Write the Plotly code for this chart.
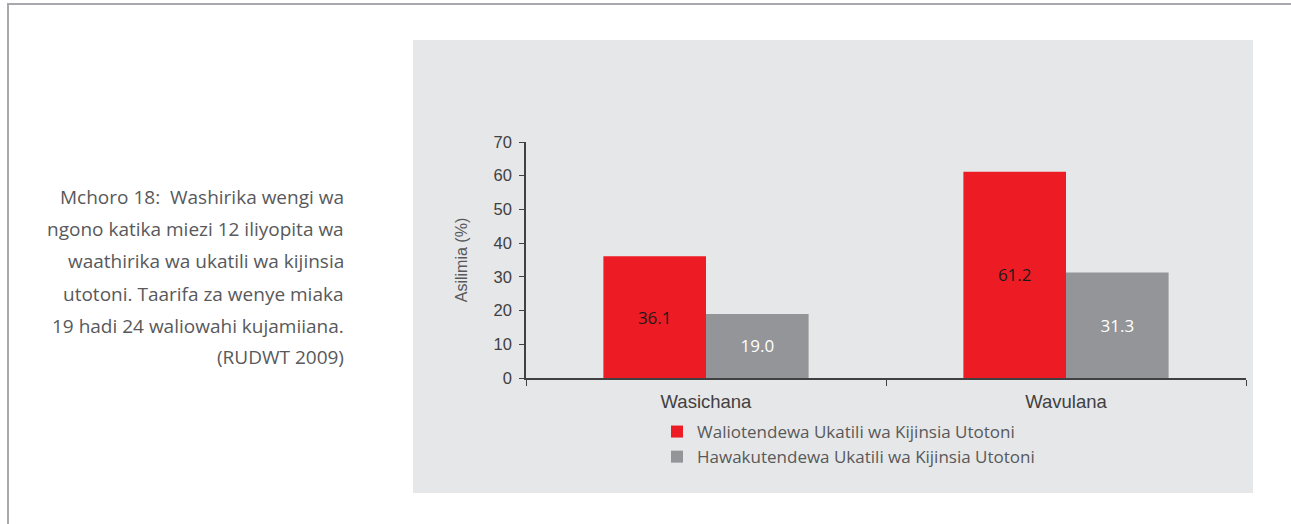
import plotly.graph_objects as go

groups = ['Wasichana', 'Wavulana']
abused = [36.1, 61.2]
not_abused = [19.0, 31.3]
series_names = ['Waliotendewa Ukatili wa Kijinsia Utotoni',
                'Hawakutendewa Ukatili wa Kijinsia Utotoni']
caption_lines = ['Mchoro 18:  Washirika wengi wa',
                 'ngono katika miezi 12 iliyopita wa',
                 'waathirika wa ukatili wa kijinsia',
                 'utotoni. Taarifa za wenye miaka',
                 '19 hadi 24 waliowahi kujamiiana.',
                 '(RUDWT 2009)']

W, H = 1291, 524
L, R, T, B = 526, 1246, 142, 378   # plot area in pixels

def px(x):
    return (x - L) / (R - L)

def py(y):
    return (B - y) / (B - T)

font = 'Open Sans, DejaVu Sans, sans-serif'
axfont = 'Liberation Sans, Arial, sans-serif'
dark = '#414042'
mid = '#58595b'

fig = go.Figure()
fig.add_trace(go.Bar(
    name=series_names[0], x=groups, y=abused,
    marker=dict(color='#ed1c24', line=dict(width=0)),
    text=[f'{v:.1f}' for v in abused], textposition='inside',
    insidetextanchor='middle', textangle=0,
    textfont=dict(color='#1a1a1a', size=17, family=font)))
fig.add_trace(go.Bar(
    name=series_names[1], x=groups, y=not_abused,
    marker=dict(color='#939598', line=dict(width=0)),
    text=[f'{v:.1f}' for v in not_abused], textposition='inside',
    insidetextanchor='middle', textangle=0,
    textfont=dict(color='#ffffff', size=17, family=font)))

shapes = [
    # outer frame
    dict(type='rect', xref='paper', yref='paper', layer='below',
         x0=px(8), x1=px(1300), y0=py(4), y1=py(540),
         line=dict(color='#a7a9ac', width=2), fillcolor='white'),
    # grey panel
    dict(type='rect', xref='paper', yref='paper', layer='below',
         x0=px(413), x1=px(1253), y0=py(40), y1=py(493),
         line=dict(width=0), fillcolor='#e6e7e8'),
]

annotations = []
line_y = [197, 229, 261, 294, 326, 357]
for txt, yy in zip(caption_lines, line_y):
    annotations.append(dict(
        text=txt, xref='paper', yref='paper', x=px(346), y=py(yy),
        xanchor='right', yanchor='middle', showarrow=False,
        font=dict(size=19, color=mid, family=font)))

fig.update_layout(
    width=W, height=H,
    margin=dict(l=L, r=W - R, t=T, b=H - B),
    paper_bgcolor='white', plot_bgcolor='rgba(0,0,0,0)',
    barmode='group', bargap=0.43, bargroupgap=0,
    shapes=shapes, annotations=annotations,
    font=dict(family=font, color=dark),
    legend=dict(x=px(657), y=py(414), xanchor='left', yanchor='top',
                bgcolor='rgba(0,0,0,0)', tracegroupgap=0,
                font=dict(size=17, color=mid, family=font)),
    showlegend=True,
)
fig.update_xaxes(showline=True, linecolor=dark, linewidth=1.5,
                 ticks='outside', tickson='boundaries', ticklen=6,
                 tickcolor=dark, ticklabelstandoff=6,
                 tickfont=dict(size=18.5, color=dark, family=axfont),
                 showgrid=False, zeroline=False)
fig.update_yaxes(range=[0, 70], dtick=10, showline=True, linecolor=dark,
                 linewidth=1.5, ticks='outside', ticklen=5, tickcolor=dark,
                 ticklabelstandoff=4,
                 tickfont=dict(size=16.5, color=dark, family=axfont),
                 showgrid=False, zeroline=False,
                 title=dict(text='Asilimia (%)',
                            font=dict(size=16, color=mid, family=axfont),
                            standoff=22))

fig.write_html("out.html", config={'displayModeBar': False},
               post_script="document.body.style.margin='0';")
